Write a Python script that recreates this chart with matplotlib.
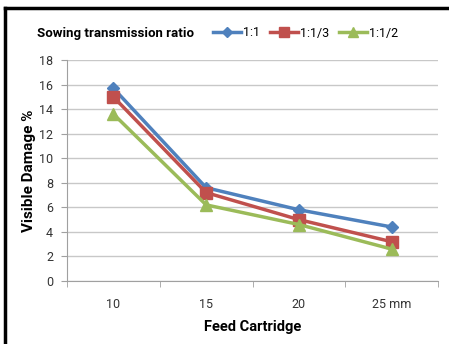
import matplotlib
matplotlib.use("Agg")
import matplotlib.pyplot as plt
from matplotlib.lines import Line2D

categories = ["10", "15", "20", "25 mm"]
series_names = ["1:1", "1:1/3", "1:1/2"]
s_1_1 = [15.7, 7.6, 5.8, 4.4]
s_1_13 = [15.0, 7.2, 5.0, 3.2]
s_1_12 = [13.6, 6.2, 4.6, 2.6]
yticks = [0, 2, 4, 6, 8, 10, 12, 14, 16, 18]

colors = ["#4F81BD", "#C0504D", "#9BBB59"]
markers = ["D", "s", "^"]
msizes = [6, 8, 8]

plt.rcParams['font.family'] = ['Roboto', 'DejaVu Sans']

fig = plt.figure(figsize=(4.49, 3.44), dpi=100)
ax = fig.add_axes([67/449, 1-281/344, (438-67)/449, (281-60)/344])

x = list(range(len(categories)))
for vals, c, m, ms, name in zip([s_1_1, s_1_13, s_1_12], colors, markers, msizes, series_names):
    ax.plot(x, vals, color=c, marker=m, markersize=ms, linewidth=2.5, label=name, zorder=3)

ax.set_xlim(-0.5, len(categories) - 0.5)
ax.set_ylim(0, 18)
ax.set_yticks(yticks)
ax.set_yticklabels([str(v) for v in yticks], fontsize=9, color="#333333")
ax.yaxis.grid(True, color="#c8c8c8", linewidth=1)
ax.set_axisbelow(True)
ax.set_xticks(x)
ax.set_xticklabels(categories, fontsize=9, color="#333333")
ax.tick_params(axis='x', length=0, pad=12)
ax.set_xticks([i - 0.5 for i in range(len(categories) + 1)], minor=True)
ax.tick_params(axis='x', which='minor', length=4, color="#a0a0a0", direction='out')
ax.tick_params(axis='y', length=4, color="#a0a0a0", pad=6)
for s in ["top", "right"]:
    ax.spines[s].set_visible(False)
for s in ["left", "bottom"]:
    ax.spines[s].set_color("#a0a0a0")

ax.set_ylabel("Visible Damage %", fontsize=11, fontweight='bold', labelpad=2)
ax.set_xlabel("Feed Cartridge", fontsize=10.5, fontweight='bold', labelpad=7)

fig.text(37/449, 1-33/344, "Sowing transmission ratio", fontsize=9.5, fontweight='bold',
         va='center', ha='left')
handles = [Line2D([0], [0], color=c, marker=m, markersize=ms - 1, linewidth=2.5)
           for c, m, ms in zip(colors, markers, msizes)]
fig.legend(handles, series_names, loc='center left', bbox_to_anchor=(208/449, 1-33/344),
           ncol=3, frameon=False, fontsize=9, handlelength=2.2, columnspacing=0.8,
           handletextpad=0.2, borderaxespad=0)

# outer frame (left and top)
fig.add_artist(Line2D([5/449, 5/449], [0, 1-8/344], color='black', linewidth=2.5,
                      transform=fig.transFigure))
fig.add_artist(Line2D([5/449, 1], [1-8/344, 1-8/344], color='black', linewidth=2.5,
                      transform=fig.transFigure))

fig.savefig("out.png", dpi=100)
